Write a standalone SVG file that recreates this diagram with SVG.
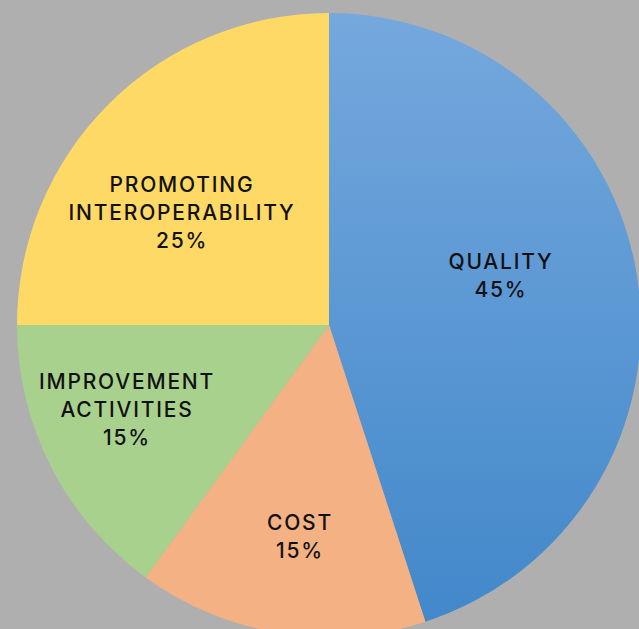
<svg xmlns="http://www.w3.org/2000/svg" width="639" height="629" viewBox="0 0 639 629">
<defs>
<linearGradient id="gq" x1="0" y1="0" x2="0" y2="1" gradientUnits="objectBoundingBox">
<stop offset="0" stop-color="#75A8DD"/>
<stop offset="1" stop-color="#4288CA"/>
</linearGradient>
<style>
.lbl{font-family:Inter,"Liberation Sans",sans-serif;font-size:21px;fill:#111;text-anchor:middle;letter-spacing:1.8px;font-weight:500}
</style>
</defs>
<rect width="639" height="629" fill="#AFAFAF"/>
<g id="slice-quality"><path d="M329,325 L329,13 A312,312 0 0 1 425.4,621.7 Z" fill="url(#gq)"/>
<text class="lbl" x="501" y="269">QUALITY</text><text class="lbl" x="501" y="297">45%</text></g>
<g id="slice-cost"><path d="M329,325 L425.4,621.7 A312,312 0 0 1 145.6,577.4 Z" fill="#F4B183"/>
<text class="lbl" x="300" y="530">COST</text><text class="lbl" x="300" y="558">15%</text></g>
<g id="slice-improvement"><path d="M329,325 L145.6,577.4 A312,312 0 0 1 17,325 Z" fill="#A9D18E"/>
<text class="lbl" x="127" y="389">IMPROVEMENT</text><text class="lbl" x="127" y="417">ACTIVITIES</text><text class="lbl" x="127" y="445">15%</text></g>
<g id="slice-promoting"><path d="M329,325 L17,325 A312,312 0 0 1 329,13 Z" fill="#FFD966"/>
<text class="lbl" x="182" y="192">PROMOTING</text><text class="lbl" x="182" y="220">INTEROPERABILITY</text><text class="lbl" x="182" y="248">25%</text></g>
<g id="connectors"/>
</svg>
